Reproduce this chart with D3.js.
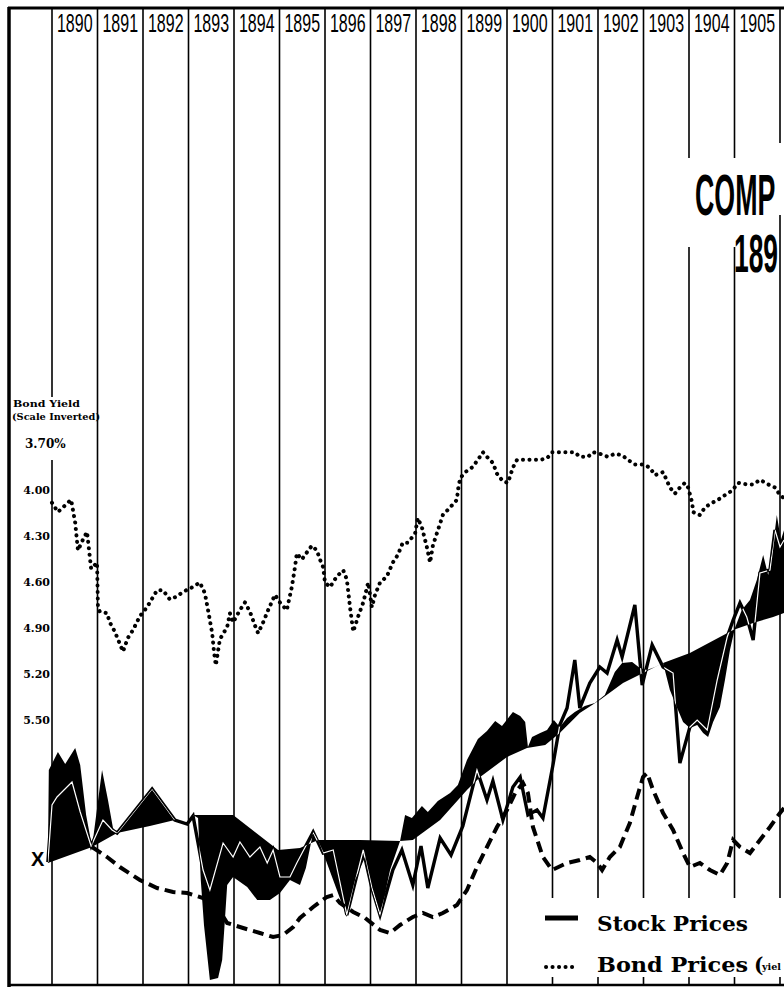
<!DOCTYPE html>
<html>
<head>
<meta charset="utf-8">
<title>Comparison 1890-1905</title>
<script src="https://d3js.org/d3.v7.min.js"></script>
<style>
  body { margin: 0; background: #fff; }
  text { fill: #000; }
</style>
</head>
<body>
<script>
// columns across the top
var yearLabels = ["1890","1891","1892","1893","1894","1895","1896","1897",
                  "1898","1899","1900","1901","1902","1903","1904","1905"];

// left scale: bond yield, inverted
var yieldTicks = [3.70, 4.00, 4.30, 4.60, 4.90, 5.20, 5.50];
var yieldTickLabels = ["3.70%", "4.00", "4.30", "4.60", "4.90", "5.20", "5.50"];

// dotted line: bond yield (%), [year, value]
var bondYield = [
  [1890.00,4.09],[1890.13,4.15],[1890.24,4.12],[1890.42,4.07],[1890.51,4.22],[1890.57,4.40],
  [1890.68,4.33],[1890.77,4.28],[1890.86,4.52],[1890.99,4.48],[1891.01,4.77],[1891.05,4.80],
  [1891.21,4.81],[1891.27,4.87],[1891.38,4.93],[1891.56,5.06],[1891.67,4.97],[1891.78,4.92],
  [1891.93,4.83],[1892.09,4.77],[1892.31,4.66],[1892.44,4.66],[1892.59,4.72],[1892.75,4.70],
  [1892.88,4.67],[1893.03,4.65],[1893.25,4.61],[1893.36,4.68],[1893.43,4.79],[1893.52,4.94],
  [1893.56,5.06],[1893.60,5.15],[1893.69,4.98],[1893.85,4.90],[1893.91,4.81],[1893.98,4.87],
  [1894.13,4.79],[1894.24,4.74],[1894.35,4.80],[1894.46,4.89],[1894.53,4.94],[1894.64,4.87],
  [1894.75,4.79],[1894.90,4.69],[1895.01,4.74],[1895.16,4.79],[1895.27,4.64],[1895.34,4.51],
  [1895.38,4.42],[1895.49,4.46],[1895.56,4.43],[1895.71,4.37],[1895.82,4.40],[1895.89,4.46],
  [1895.96,4.51],[1896.00,4.61],[1896.11,4.64],[1896.26,4.57],[1896.40,4.53],[1896.48,4.59],
  [1896.55,4.77],[1896.62,4.93],[1896.73,4.83],[1896.84,4.74],[1896.95,4.61],[1897.03,4.77],
  [1897.10,4.69],[1897.21,4.61],[1897.36,4.57],[1897.49,4.48],[1897.60,4.43],[1897.71,4.35],
  [1897.82,4.35],[1897.98,4.29],[1898.04,4.19],[1898.13,4.25],[1898.24,4.38],[1898.31,4.48],
  [1898.37,4.37],[1898.48,4.27],[1898.59,4.17],[1898.75,4.12],[1898.90,4.07],[1898.92,4.01],
  [1898.97,3.93],[1899.08,3.89],[1899.23,3.86],[1899.36,3.81],[1899.47,3.76],[1899.56,3.79],
  [1899.69,3.83],[1899.78,3.90],[1899.91,3.95],[1900.02,3.96],[1900.13,3.86],[1900.22,3.81],
  [1900.40,3.81],[1900.57,3.81],[1900.73,3.81],[1900.88,3.80],[1900.99,3.76],[1901.12,3.76],
  [1901.32,3.76],[1901.49,3.76],[1901.60,3.79],[1901.78,3.79],[1901.89,3.76],[1902.04,3.77],
  [1902.22,3.79],[1902.37,3.77],[1902.53,3.78],[1902.66,3.81],[1902.81,3.84],[1902.99,3.84],
  [1903.14,3.86],[1903.25,3.91],[1903.43,3.89],[1903.52,3.95],[1903.58,3.99],[1903.69,4.03],
  [1903.80,3.99],[1903.91,3.96],[1903.98,3.99],[1904.07,4.09],[1904.09,4.15],[1904.24,4.17],
  [1904.35,4.12],[1904.51,4.09],[1904.64,4.07],[1904.79,4.04],[1904.95,4.01],[1905.08,3.96],
  [1905.27,3.97],[1905.41,3.97],[1905.56,3.94],[1905.74,3.97],[1905.89,3.99],[1906.00,4.04],
  [1906.09,4.06]
];

// thick solid line: stock prices (index, no printed scale)
var stockPrices = [
  [1889.91,24.6],[1890.00,36.0],[1890.11,37.6],[1890.44,40.6],[1890.62,34.6],[1890.86,27.8],
  [1891.12,33.0],[1891.32,31.0],[1891.43,30.4],[1892.20,39.2],[1892.70,33.0],[1892.97,32.2],
  [1893.10,33.8],[1893.32,23.0],[1893.47,19.0],[1893.76,28.4],[1893.98,25.6],[1894.13,28.6],
  [1894.35,25.6],[1894.57,27.6],[1894.73,24.4],[1894.86,27.0],[1895.01,21.6],[1895.23,21.6],
  [1895.38,24.4],[1895.74,30.6],[1895.96,26.4],[1896.18,27.0],[1896.48,14.0],[1896.84,27.0],
  [1897.03,19.4],[1897.21,14.0],[1897.49,23.0],[1897.69,27.0],[1897.93,20.0],[1898.11,27.8],
  [1898.26,19.4],[1898.53,29.4],[1898.77,26.0],[1899.03,31.8],[1899.34,43.0],[1899.56,37.0],
  [1899.69,40.8],[1899.91,33.0],[1900.13,39.6],[1900.29,41.6],[1900.46,34.0],[1900.66,35.0],
  [1900.79,33.4],[1901.01,44.0],[1901.16,52.0],[1901.32,55.4],[1901.49,65.0],[1901.60,55.4],
  [1901.82,60.4],[1902.04,63.6],[1902.20,62.4],[1902.42,69.0],[1902.53,65.6],[1902.81,76.0],
  [1902.97,60.0],[1903.19,68.0],[1903.43,63.6],[1903.65,62.4],[1903.80,44.4],[1904.02,51.6],
  [1904.18,53.0],[1904.40,51.0],[1904.62,61.0],[1904.84,69.6],[1904.97,73.0],[1905.12,76.4],
  [1905.27,73.6],[1905.41,69.0],[1905.56,82.4],[1905.78,83.0],[1905.89,91.0],[1906.00,87.6],
  [1906.09,89.0]
];

// smooth stock trend (one edge of the black band)
var stockTrend = [
  [1889.91,24.4],[1890.88,27.6],[1891.43,30.4],[1892.15,31.8],[1892.70,33.0],[1892.97,32.2],
  [1893.10,34.0],[1893.98,34.0],[1894.46,30.6],[1894.97,27.0],[1895.45,27.4],[1895.85,29.0],
  [1896.77,29.0],[1897.65,28.8],[1897.93,29.0],[1898.53,33.0],[1899.12,39.0],[1899.41,41.6],
  [1900.00,45.6],[1900.44,47.4],[1900.84,48.0],[1901.16,50.4],[1901.60,54.4],[1902.04,57.0],
  [1902.55,60.4],[1902.99,62.4],[1903.43,64.4],[1904.02,66.4],[1904.68,69.6],[1904.97,71.0],
  [1905.41,72.4],[1905.85,73.6],[1906.09,74.4]
];

// jagged stock range (other edge of the black band)
var stockRange = [
  [1889.91,24.4],[1889.93,43.0],[1890.13,46.6],[1890.29,44.2],[1890.51,47.4],[1890.62,44.0],
  [1890.75,34.0],[1890.88,27.6],[1891.10,43.0],[1891.23,37.0],[1891.34,31.4],[1891.43,30.4],
  [1892.20,39.2],[1892.70,33.0],[1892.97,32.2],[1893.10,34.0],[1893.21,33.4],[1893.27,21.0],
  [1893.34,12.0],[1893.47,1.0],[1893.65,1.4],[1893.74,5.0],[1893.80,13.0],[1893.85,20.0],
  [1893.98,21.6],[1894.29,19.6],[1894.51,17.0],[1894.79,17.0],[1895.01,18.4],[1895.23,21.0],
  [1895.45,20.0],[1895.58,23.4],[1895.74,30.6],[1895.85,29.0],[1895.96,26.4],[1896.48,13.6],
  [1896.66,21.0],[1896.88,25.6],[1897.03,19.0],[1897.21,13.6],[1897.43,23.0],[1897.65,28.8],
  [1897.76,34.0],[1897.91,33.4],[1898.13,35.8],[1898.26,34.6],[1898.48,36.8],[1898.75,38.4],
  [1898.92,40.0],[1899.12,45.0],[1899.36,49.2],[1899.56,50.8],[1899.74,52.8],[1899.89,51.8],
  [1900.13,54.6],[1900.29,53.8],[1900.40,52.6],[1900.46,47.6],[1900.55,49.6],[1900.73,50.4],
  [1900.88,51.0],[1901.03,53.0],[1901.16,51.6],[1901.32,53.4],[1901.49,54.6],[1901.71,55.8],
  [1901.93,56.4],[1902.15,58.0],[1902.37,62.6],[1902.53,64.4],[1902.75,64.6],[1902.92,63.4],
  [1903.08,63.0],[1903.25,63.6],[1903.43,64.4],[1903.58,59.0],[1903.74,55.4],[1903.87,52.6],
  [1904.02,51.4],[1904.18,52.0],[1904.31,50.4],[1904.42,49.6],[1904.53,52.6],[1904.68,55.6],
  [1904.79,61.0],[1904.90,67.0],[1905.01,71.4],[1905.16,75.0],[1905.34,77.0],[1905.49,81.0],
  [1905.63,86.0],[1905.74,82.0],[1905.85,88.0],[1905.93,94.0],[1906.02,89.0],[1906.09,91.0]
];

// dashed line (third series, same unprinted scale as stocks)
var dashedSeries = [
  [1890.88,27.6],[1891.21,25.6],[1891.49,23.6],[1891.93,21.0],[1892.31,19.4],[1892.66,18.6],
  [1892.97,18.4],[1893.32,17.4],[1893.63,15.6],[1893.85,12.4],[1894.20,11.4],[1894.57,10.4],
  [1894.86,9.6],[1895.08,10.0],[1895.30,11.6],[1895.45,13.4],[1895.74,15.6],[1896.04,17.6],
  [1896.18,18.0],[1896.33,16.4],[1896.62,14.6],[1896.88,13.4],[1897.21,11.0],[1897.43,10.4],
  [1897.65,12.0],[1897.93,13.6],[1898.15,14.4],[1898.37,13.6],[1898.59,14.4],[1898.90,16.0],
  [1899.12,19.0],[1899.34,23.6],[1899.56,27.6],[1899.78,31.6],[1900.00,35.0],[1900.18,38.4],
  [1900.35,40.4],[1900.46,38.4],[1900.57,31.6],[1900.79,25.6],[1900.99,23.0],[1901.32,24.4],
  [1901.60,25.0],[1901.82,25.6],[1901.98,24.4],[1902.09,23.0],[1902.26,25.6],[1902.48,27.6],
  [1902.70,32.4],[1902.86,37.6],[1902.99,41.6],[1903.08,42.4],[1903.21,39.0],[1903.43,34.4],
  [1903.65,31.0],[1903.87,26.4],[1904.02,23.6],[1904.24,24.4],[1904.46,23.0],[1904.68,22.0],
  [1904.84,24.4],[1904.97,29.0],[1905.12,27.6],[1905.34,26.4],[1905.56,29.0],[1905.78,31.6],
  [1906.00,34.4],[1906.09,35.4]
];

var W = 784, H = 990;
var svg = d3.select("body").append("svg").attr("width", W).attr("height", H);
svg.append("rect").attr("width", W).attr("height", H).attr("fill", "#fff");

var x = d3.scaleLinear().domain([1890, 1906]).range([52, 780]);
var yYield = d3.scaleLinear().domain([3.70, 5.50]).range([443, 719]);
var yStock = d3.scaleLinear().domain([0, 100]).range([985, 485]);

// squeezed text (condensed look of the engraved lettering)
function squeeze(str, px, py, size, sx, sy, weight) {
  return svg.append("text")
    .attr("transform", "translate(" + px + "," + py + ") scale(" + sx + "," + sy + ")")
    .style("font-family", "'Liberation Sans', Arial, sans-serif")
    .style("font-weight", weight || "normal")
    .style("font-size", size + "px")
    .text(str);
}

// year rules, broken where labels, title and legend sit
var rules = svg.append("g").attr("stroke", "#000").attr("stroke-width", 1.6);
d3.range(1890, 1907).forEach(function(yr) {
  var segs = [[8, 985]];
  if (yr == 1890) segs = [[8, 397], [460, 985]];
  if (yr >= 1901) segs = [[8, 898], [977, 985]];
  if (yr == 1904 || yr == 1905) segs = [[8, 158], [247, 898], [977, 985]];
  if (yr == 1906) segs = [[8, 143], [215, 898], [977, 985]];
  segs.forEach(function(s) {
    rules.append("line").attr("x1", x(yr)).attr("x2", x(yr)).attr("y1", s[0]).attr("y2", s[1]);
  });
});

// frame: top, left, bottom
svg.append("line").attr("x1", 8).attr("x2", W).attr("y1", 8).attr("y2", 8)
  .attr("stroke", "#000").attr("stroke-width", 3);
svg.append("line").attr("x1", 9).attr("x2", 9).attr("y1", 7).attr("y2", 987)
  .attr("stroke", "#000").attr("stroke-width", 3.5);
svg.append("line").attr("x1", 8).attr("x2", W).attr("y1", 985).attr("y2", 985)
  .attr("stroke", "#000").attr("stroke-width", 2.5);

// year labels in the header
yearLabels.forEach(function(d, i) {
  squeeze(d, x(1890 + i + 0.5), 32, 20, 0.8, 1.3).attr("text-anchor", "middle");
});

var line = function(yScale) {
  return d3.line().x(function(d) { return x(d[0]); }).y(function(d) { return yScale(d[1]); });
};

// black band between trend and range
var bandPath = line(yStock)(stockRange.concat(stockTrend.slice().reverse())) + "Z";
svg.append("clipPath").attr("id", "bandClip").append("path").attr("d", bandPath);
svg.append("path").attr("d", bandPath).attr("fill", "#000");

// stock prices: black, white where it runs inside the band
svg.append("path").datum(stockPrices).attr("d", line(yStock))
  .attr("fill", "none").attr("stroke", "#000").attr("stroke-width", 3.4)
  .attr("stroke-linejoin", "miter");
svg.append("path").datum(stockPrices).attr("d", line(yStock))
  .attr("clip-path", "url(#bandClip)")
  .attr("fill", "none").attr("stroke", "#fff").attr("stroke-width", 1.2);

// dashed series
svg.append("path").datum(dashedSeries).attr("d", line(yStock))
  .attr("fill", "none").attr("stroke", "#000").attr("stroke-width", 4)
  .attr("stroke-dasharray", "11 6");

// dotted bond yield
svg.append("path").datum(bondYield).attr("d", line(yYield))
  .attr("fill", "none").attr("stroke", "#000").attr("stroke-width", 4)
  .attr("stroke-linecap", "round").attr("stroke-dasharray", "0.1 6.4");

// left scale labels
var serif = "'DejaVu Serif', 'Liberation Serif', serif";
svg.append("text").attr("x", 13).attr("y", 407).attr("textLength", 67)
  .attr("lengthAdjust", "spacingAndGlyphs")
  .style("font-family", serif).style("font-weight", "bold").style("font-size", "9.5px")
  .text("Bond Yield");
svg.append("text").attr("x", 12).attr("y", 420).attr("textLength", 88)
  .attr("lengthAdjust", "spacingAndGlyphs")
  .style("font-family", serif).style("font-weight", "bold").style("font-size", "9px")
  .text("(Scale Inverted)");
svg.append("g").selectAll("text").data(yieldTicks).enter().append("text")
  .attr("x", function(d, i) { return i == 0 ? 25 : 50; })
  .attr("y", function(d) { return yYield(d) + 5; })
  .attr("text-anchor", function(d, i) { return i == 0 ? "start" : "end"; })
  .style("font-family", serif).style("font-weight", "bold")
  .style("font-size", function(d, i) { return i == 0 ? "12px" : "11px"; })
  .text(function(d, i) { return yieldTickLabels[i]; });

// start marker
svg.append("text").attr("x", 31).attr("y", 866)
  .style("font-family", "'Liberation Sans', Arial, sans-serif").style("font-weight", "bold")
  .style("font-size", "20px").text("X");

// title, only the part that the scan keeps
squeeze("COMP", 695, 215, 40, 0.67, 1.45, "bold");
squeeze("189", 734, 272, 40, 0.66, 1.33, "bold");

// legend
svg.append("line").attr("x1", 545).attr("x2", 578).attr("y1", 918).attr("y2", 918)
  .attr("stroke", "#000").attr("stroke-width", 5);
svg.append("line").attr("x1", 546).attr("x2", 578).attr("y1", 967).attr("y2", 967)
  .attr("stroke", "#000").attr("stroke-width", 4)
  .attr("stroke-linecap", "round").attr("stroke-dasharray", "0.1 6.4");
svg.append("text").attr("x", 597).attr("y", 931).attr("textLength", 151)
  .attr("lengthAdjust", "spacingAndGlyphs")
  .style("font-family", serif).style("font-weight", "bold").style("font-size", "20px")
  .text("Stock Prices");
svg.append("text").attr("x", 597).attr("y", 972).attr("textLength", 151)
  .attr("lengthAdjust", "spacingAndGlyphs")
  .style("font-family", serif).style("font-weight", "bold").style("font-size", "20px")
  .text("Bond Prices");
svg.append("text").attr("x", 754).attr("y", 972)
  .style("font-family", serif).style("font-weight", "bold").style("font-size", "20px")
  .text("(");
svg.append("text").attr("x", 762).attr("y", 970).attr("textLength", 19)
  .attr("lengthAdjust", "spacingAndGlyphs")
  .style("font-family", serif).style("font-weight", "bold").style("font-size", "10px")
  .text("yiel");
</script>
</body>
</html>
